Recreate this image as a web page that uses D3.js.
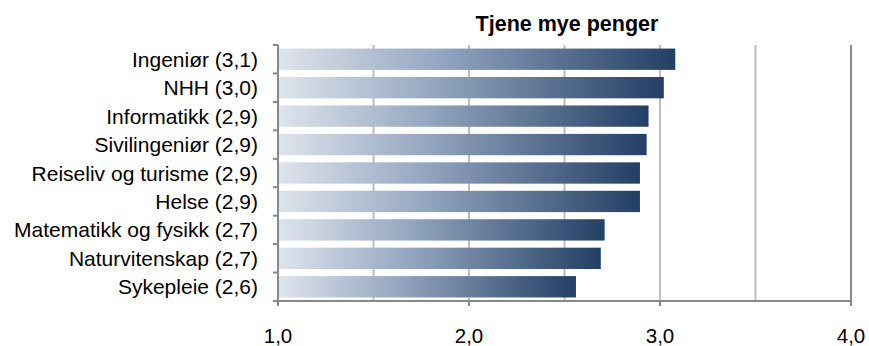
<!DOCTYPE html>
<html><head><meta charset="utf-8">
<script src="https://cdn.jsdelivr.net/npm/d3@7"></script>
<style>body{margin:0;background:#fff}svg{display:block}</style>
</head><body>
<script>
const title = "Tjene mye penger";
const categories = ["Ingeniør (3,1)","NHH (3,0)","Informatikk (2,9)","Sivilingeniør (2,9)","Reiseliv og turisme (2,9)","Helse (2,9)","Matematikk og fysikk (2,7)","Naturvitenskap (2,7)","Sykepleie (2,6)"];
const values = [3.08, 3.02, 2.94, 2.93, 2.895, 2.895, 2.71, 2.69, 2.56];
const tickValues = [1, 2, 3, 4];
const gridValues = [1.5, 2, 2.5, 3, 3.5, 4];

const W = 869, H = 346;
const m = {left: 278, right: 18, top: 45, bottom: 45};
const svg = d3.select("body").append("svg").attr("width", W).attr("height", H);
const font = "'Liberation Sans', Arial, sans-serif";

const x = d3.scaleLinear().domain([1, 4]).range([m.left, W - m.right]);
const y = d3.scaleBand().domain(categories).range([m.top, H - m.bottom]).paddingInner(0.25).paddingOuter(0.125);

const defs = svg.append("defs");

// gridlines
svg.append("g").selectAll("line").data(gridValues).join("line")
  .attr("x1", d => x(d)).attr("x2", d => x(d))
  .attr("y1", m.top).attr("y2", H - m.bottom)
  .attr("stroke", d => d === 4 ? "#8a8a8a" : "#bdbdbd").attr("stroke-width", 2);

// bars (gradient per bar)
values.forEach((v, i) => {
  const gg = defs.append("linearGradient").attr("id", "g" + i)
    .attr("gradientUnits", "userSpaceOnUse").attr("x1", x(1)).attr("x2", x(v)).attr("y1", 0).attr("y2", 0);
  gg.append("stop").attr("offset", "0%").attr("stop-color", "#dfe4ec");
  gg.append("stop").attr("offset", "40%").attr("stop-color", "#95a7c1");
  gg.append("stop").attr("offset", "100%").attr("stop-color", "#233f64");
});
svg.append("g").selectAll("rect").data(categories).join("rect")
  .attr("x", x(1) + 1).attr("y", d => y(d))
  .attr("width", (d, i) => x(values[i]) - x(1) - 1)
  .attr("height", y.bandwidth())
  .attr("fill", (d, i) => `url(#g${i})`);

// left axis
const axisColor = "#888888";
const step = y.step();
const bounds = d3.range(categories.length + 1).map(i => m.top + i * step);
svg.append("line").attr("x1", m.left).attr("x2", m.left).attr("y1", m.top).attr("y2", H - m.bottom + 1)
  .attr("stroke", axisColor).attr("stroke-width", 2);
svg.append("g").selectAll("line").data(bounds).join("line")
  .attr("x1", m.left - 5).attr("x2", m.left).attr("y1", d => d).attr("y2", d => d)
  .attr("stroke", axisColor).attr("stroke-width", 2);

// bottom axis
svg.append("line").attr("x1", m.left - 5).attr("x2", x(4) + 1).attr("y1", H - m.bottom).attr("y2", H - m.bottom)
  .attr("stroke", axisColor).attr("stroke-width", 2);
svg.append("g").selectAll("line").data(tickValues).join("line")
  .attr("x1", d => x(d)).attr("x2", d => x(d)).attr("y1", H - m.bottom).attr("y2", H - m.bottom + 5)
  .attr("stroke", axisColor).attr("stroke-width", 2);

// labels
svg.append("g").selectAll("text").data(categories).join("text")
  .attr("x", m.left - 20).attr("y", d => y(d) + y.bandwidth() / 2 + 7.5)
  .attr("text-anchor", "end").attr("font-family", font).attr("font-size", 21).attr("fill", "#000")
  .text(d => d);
svg.append("g").selectAll("text").data(tickValues).join("text")
  .attr("x", d => x(d)).attr("y", 343)
  .attr("text-anchor", "middle").attr("font-family", font).attr("font-size", 20.5).attr("fill", "#000")
  .text(d => d3.format(".1f")(d).replace(".", ","));
svg.append("text").attr("x", 567).attr("y", 31).attr("text-anchor", "middle")
  .attr("font-family", font).attr("font-size", 21.5).attr("font-weight", "bold").attr("fill", "#000")
  .text(title);
</script>
</body></html>
